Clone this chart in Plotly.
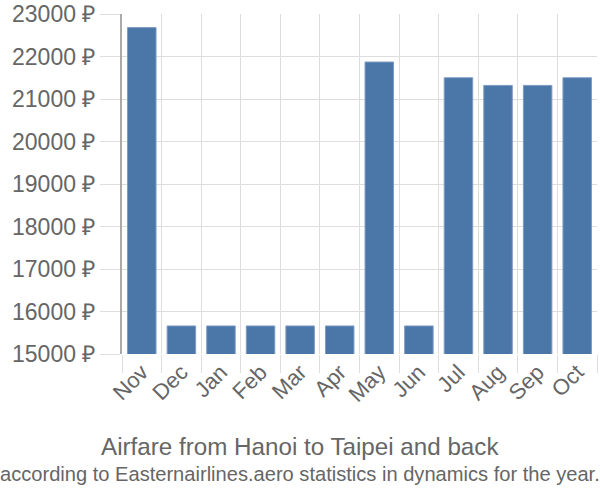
import plotly.graph_objects as go

months = ["Nov", "Dec", "Jan", "Feb", "Mar", "Apr", "May", "Jun", "Jul", "Aug", "Sep", "Oct"]
prices = [22680, 15660, 15660, 15660, 15660, 15660, 21870, 15660, 21500, 21320, 21320, 21500]
y_ticks = [15000, 16000, 17000, 18000, 19000, 20000, 21000, 22000, 23000]
y_labels = [f"{v} ₽" for v in y_ticks]

title = "Airfare from Hanoi to Taipei and back"
subtitle = "according to Easternairlines.aero statistics in dynamics for the year."

W, H = 600, 500
L, R, T, B = 122, 3, 14, 146
pw, ph = W - L - R, H - T - B


def px_x(page_x):
    return (page_x - L) / pw


def px_y(page_y):
    return (H - B - page_y) / ph


fig = go.Figure()
fig.add_trace(go.Bar(
    x=months, y=prices,
    marker=dict(color="#4a76a8", line=dict(color="#7d9cc4", width=1)),
    width=0.72,
))

fig.update_layout(
    width=W, height=H,
    margin=dict(l=L, r=R, t=T, b=B, autoexpand=False),
    plot_bgcolor="white", paper_bgcolor="white",
    showlegend=False,
    font=dict(family="Liberation Sans, Arial, sans-serif", color="#666666", size=20),
    annotations=[
        dict(text=title, xref="paper", yref="paper",
             x=px_x(300), y=px_y(446),
             showarrow=False, xanchor="center", yanchor="middle",
             font=dict(size=24.2, color="#666666")),
        dict(text=subtitle, xref="paper", yref="paper",
             x=px_x(300), y=px_y(474),
             showarrow=False, xanchor="center", yanchor="middle",
             font=dict(size=20.1, color="#666666")),
    ],
)
fig.update_xaxes(
    type="category", tickson="boundaries", showgrid=True, gridcolor="#dddddd", gridwidth=1,
    ticks="outside", ticklen=18, tickcolor="#dddddd", tickangle=-45,
    showline=False, tickfont=dict(size=22, color="#666666"),
)
fig.update_yaxes(
    range=[15000, 23000], tickvals=y_ticks, ticktext=y_labels,
    ticklabeloverflow="allow",
    showgrid=True, gridcolor="#dddddd", gridwidth=1,
    ticks="outside", ticklen=20, tickcolor="#dddddd",
    showline=True, linecolor="#aaaaaa", linewidth=2, zeroline=False,
    tickfont=dict(size=23, color="#666666"),
)
fig.write_html("out.html", config={"displayModeBar": False},
               post_script="document.body.style.margin='0';")
